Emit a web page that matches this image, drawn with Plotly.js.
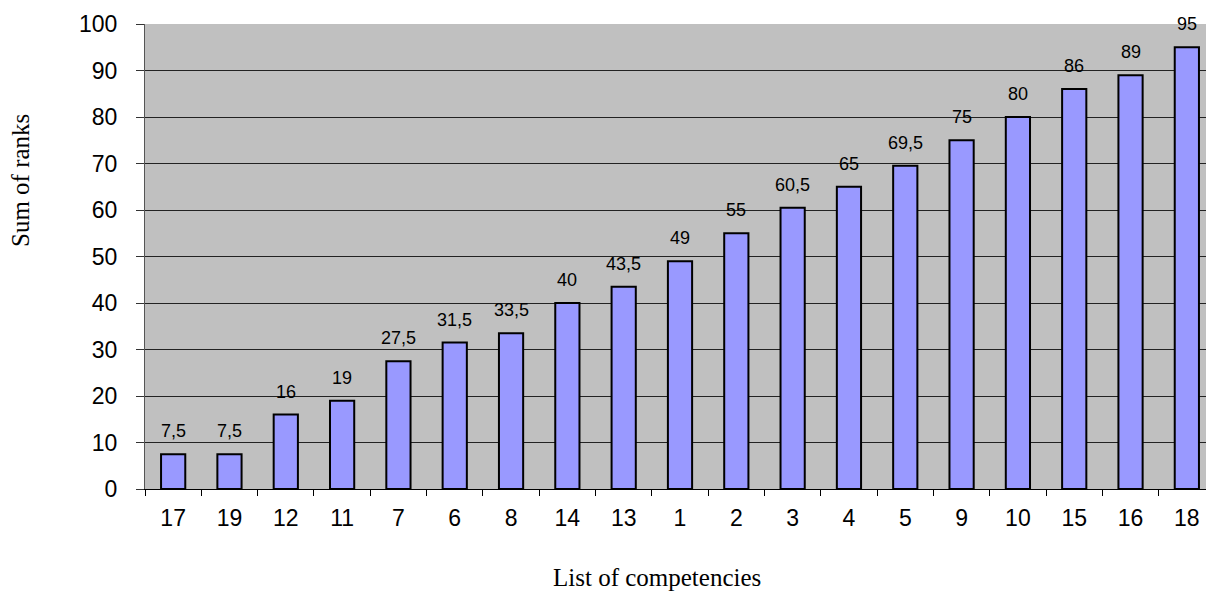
<!DOCTYPE html>
<html>
<head>
<meta charset="utf-8">
<script src="https://cdn.plot.ly/plotly-3.0.1.min.js"></script>
<style>html,body{margin:0;padding:0;background:#fff;}#chart{width:1206px;height:592px;}</style>
</head>
<body>
<div id="chart"></div>
<script>
const categories = ["17","19","12","11","7","6","8","14","13","1","2","3","4","5","9","10","15","16","18"];
const sumOfRanks = [7.5,7.5,16,19,27.5,31.5,33.5,40,43.5,49,55,60.5,65,69.5,75,80,86,89,95];
const yTicks = [0,10,20,30,40,50,60,70,80,90,100];
const labels = sumOfRanks.map(v => String(v).replace('.', ','));

const trace = {
  type: 'bar',
  x: categories,
  y: sumOfRanks,
  marker: {color: '#9999ff', line: {color: '#000', width: 2}},
  width: 0.43,
  hoverinfo: 'none'
};

// category axis: annotation x given as the category's index position
const valueLabels = categories.map((c, i) => ({
  x: i, y: sumOfRanks[i], xref: 'x', yref: 'y',
  text: labels[i], showarrow: false,
  xanchor: 'center', yanchor: 'bottom', yshift: 11,
  font: {family: 'Liberation Sans, Arial, sans-serif', size: 18, color: '#000'}
}));

const layout = {
  width: 1206, height: 592,
  margin: {l: 145, r: 0, t: 24, b: 103},
  paper_bgcolor: '#ffffff',
  plot_bgcolor: '#c0c0c0',
  showlegend: false,
  font: {family: 'Liberation Sans, Arial, sans-serif', color: '#000'},
  xaxis: {
    type: 'category',
    range: [-0.5, 18.34],
    tickson: 'boundaries',
    ticks: 'outside', ticklen: 6, tickcolor: '#000', tickwidth: 1,
    showgrid: false,
    showline: true, linecolor: '#000', linewidth: 1,
    tickfont: {size: 23, family: 'Liberation Sans, Arial, sans-serif'},
    ticklabelstandoff: 8,
    fixedrange: true
  },
  yaxis: {
    range: [0, 100],
    tickvals: yTicks,
    ticks: 'outside', ticklen: 8, tickcolor: '#333', tickwidth: 1,
    showgrid: true, gridcolor: '#222', gridwidth: 1,
    zeroline: false,
    showline: true, linecolor: '#555', linewidth: 1,
    tickfont: {size: 23, family: 'Liberation Sans, Arial, sans-serif'},
    ticklabelstandoff: 14,
    fixedrange: true
  },
  annotations: valueLabels.concat([
    {text: 'List of competencies', xref: 'paper', yref: 'paper', x: 0.4826, y: (489-577)/465,
     showarrow: false, font: {family: 'Liberation Serif, Times New Roman, serif', size: 25, color: '#000'},
     xanchor: 'center', yanchor: 'middle'},
    {text: 'Sum of ranks', xref: 'paper', yref: 'paper', x: (20-145)/1061, y: (489-181)/465,
     showarrow: false, textangle: -90, font: {family: 'Liberation Serif, Times New Roman, serif', size: 25, color: '#000'},
     xanchor: 'center', yanchor: 'middle'}
  ])
};

Plotly.newPlot('chart', [trace], layout, {displayModeBar: false, staticPlot: true});
</script>
</body>
</html>
